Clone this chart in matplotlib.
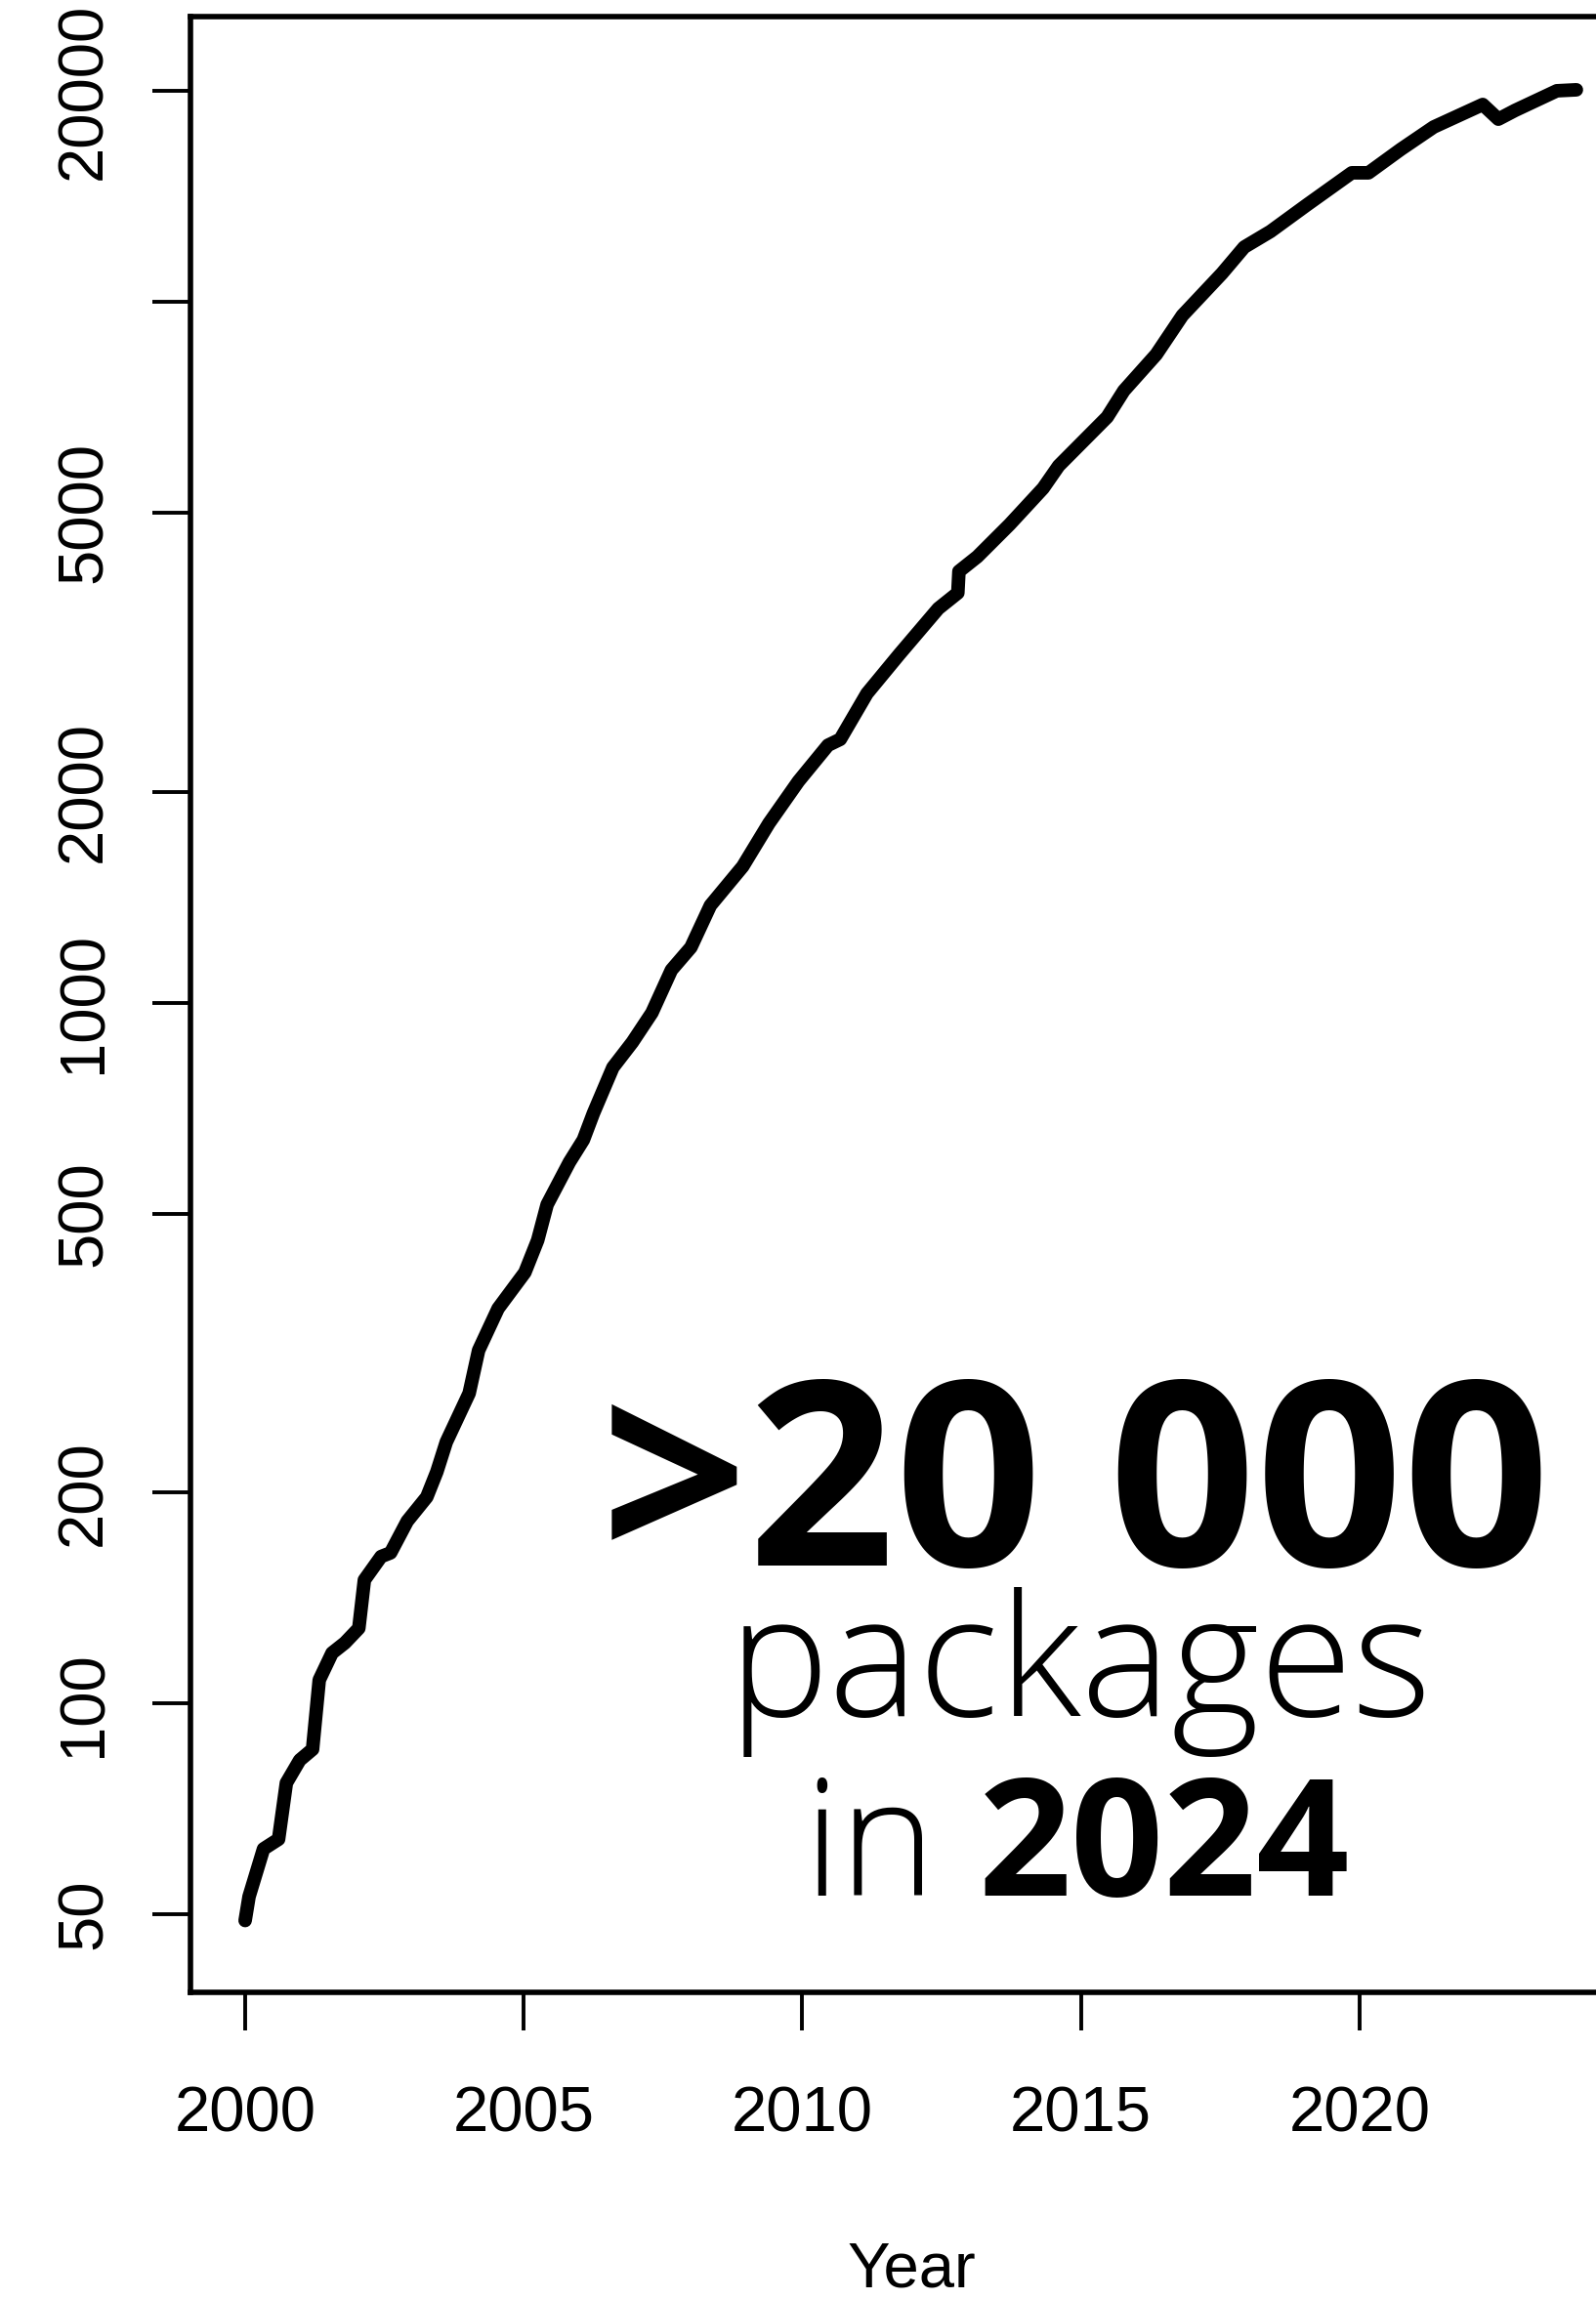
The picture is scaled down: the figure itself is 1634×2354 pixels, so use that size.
import numpy as np
import matplotlib
matplotlib.use("Agg")
import matplotlib.pyplot as plt

# CRAN package count (log scale)
years = [2000.0, 2000.07, 2000.33, 2000.6, 2000.74, 2000.98, 2001.21, 2001.33,
         2001.56, 2001.79, 2002.04, 2002.14, 2002.44, 2002.61, 2002.91, 2003.26,
         2003.44, 2003.61, 2004.02, 2004.19, 2004.54, 2005.02, 2005.25, 2005.42,
         2005.82, 2006.07, 2006.25, 2006.6, 2006.95, 2007.3, 2007.65, 2008.0,
         2008.35, 2008.93, 2009.4, 2009.93, 2010.46, 2010.68, 2011.16, 2011.74,
         2012.44, 2012.79, 2012.81, 2013.14, 2013.72, 2014.32, 2014.6, 2015.47,
         2015.77, 2016.35, 2016.82, 2017.53, 2017.93, 2018.4, 2019.05, 2019.86,
         2020.16, 2020.74, 2021.33, 2022.21, 2022.49, 2022.79, 2023.54, 2023.89]
packages = [49, 53, 62, 64, 77, 83, 86, 108,
            118, 122, 128, 150, 162, 164, 182, 197,
            214, 236, 277, 319, 366, 412, 458, 515,
            592, 637, 695, 808, 878, 967, 1113, 1199,
            1376, 1564, 1802, 2069, 2329, 2375, 2761, 3140,
            3650, 3842, 4124, 4327, 4811, 5418, 5833, 6846,
            7467, 8409, 9559, 10975, 11967, 12597, 13739, 15275,
            15275, 16500, 17756, 19117, 18220, 18751, 20000, 20064]

x_ticks = [2000, 2005, 2010, 2015, 2020]
y_ticks = [50, 100, 200, 500, 1000, 2000, 5000, 10000, 20000]
y_tick_labels = ["50", "100", "200", "500", "1000", "2000", "5000", "", "20000"]

W, H = 1634, 2354
fig = plt.figure(figsize=(W / 100, H / 100), dpi=100)
fig.patch.set_facecolor("white")

# axes box runs past the right edge, like the cropped original
ax = fig.add_axes([194.5 / W, 1 - 2040 / H, 1477 / W, (2040 - 17) / H])
ax.plot(years, packages, color="black", linewidth=10,
        solid_capstyle="round", solid_joinstyle="round")

ax.set_yscale("log")
ax.set_xlim(1999.01, 2024.9)
ax.set_ylim(38.7, 25520)

ax.set_xticks(x_ticks)
ax.set_xticklabels([str(t) for t in x_ticks])
ax.set_yticks(y_ticks)
ax.set_yticklabels(y_tick_labels)
ax.yaxis.set_minor_locator(matplotlib.ticker.NullLocator())

tick_font = dict(family="Liberation Sans", size=47)
for lab in ax.get_xticklabels():
    lab.set_fontfamily("Liberation Sans")
    lab.set_fontsize(47)
for lab in ax.get_yticklabels():
    lab.set_fontfamily("Liberation Sans")
    lab.set_fontsize(47)
    lab.set_rotation(90)
    lab.set_va("center")

ax.tick_params(axis="both", direction="out", length=28, width=2.8, color="black")
ax.tick_params(axis="x", pad=41)
ax.tick_params(axis="y", pad=28)

for side in ["left", "top", "bottom", "right"]:
    ax.spines[side].set_linewidth(4)
    ax.spines[side].set_color("black")

ax.set_xlabel("Year", fontdict=tick_font, labelpad=71)

# big annotation
fig.text(1101 / W, 1 - 1603 / H, ">20 000", family="Open Sans", fontweight="bold",
         fontsize=190, ha="center", va="baseline", color="black")
fig.text(1106 / W, 1 - 1757 / H, "packages", family="Open Sans", fontweight="light",
         fontsize=125, ha="center", va="baseline", color="black")
fig.text(958 / W, 1 - 1941 / H, "in", family="Open Sans", fontweight="light",
         fontsize=120, ha="right", va="baseline", color="black")
fig.text(1002 / W, 1 - 1941 / H, "2024", family="Open Sans", fontweight="bold",
         fontsize=120, ha="left", va="baseline", color="black")

fig.savefig("out.png", dpi=100, facecolor="white")
